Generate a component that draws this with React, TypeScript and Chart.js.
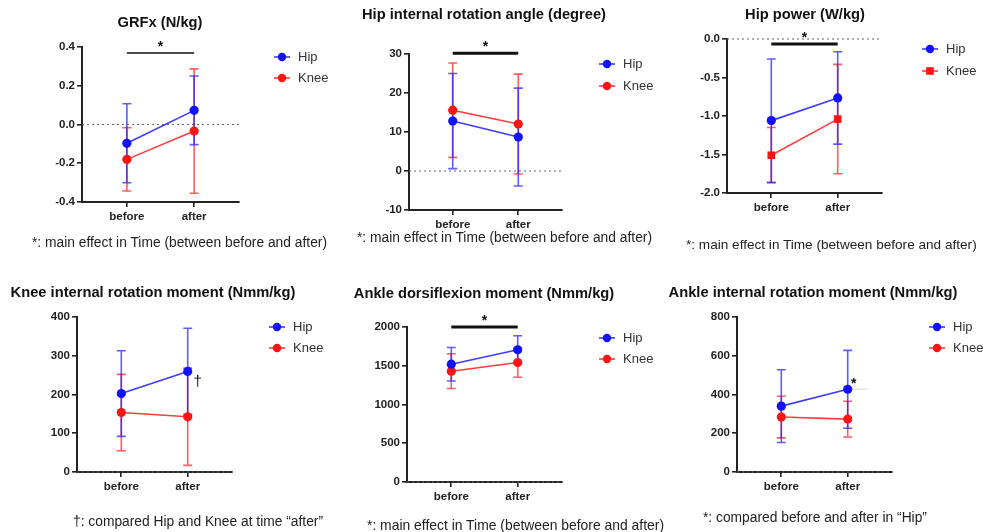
import React, { useEffect, useRef } from "react";
import { Chart, registerables } from "chart.js";
Chart.register(...registerables);

// ---------- data ----------
const timeLabels = ["before", "after"];
const groupNames = ["Hip", "Knee"];

const grfxTicks = [-0.4, -0.2, 0, 0.2, 0.4];
const grfxHipMean = [-0.097, 0.073];
const grfxHipSd = [0.204, 0.177];
const grfxKneeMean = [-0.18, -0.034];
const grfxKneeSd = [0.163, 0.321];

const angleTicks = [-10, 0, 10, 20, 30];
const angleHipMean = [12.8, 8.7];
const angleHipSd = [12.2, 12.55];
const angleKneeMean = [15.6, 12.05];
const angleKneeSd = [12.1, 12.8];

const powerTicks = [-2, -1.5, -1, -0.5, 0];
const powerHipMean = [-1.06, -0.765];
const powerHipSd = [0.8, 0.6];
const powerKneeMean = [-1.51, -1.04];
const powerKneeSd = [0.36, 0.71];

const kneeMomTicks = [0, 100, 200, 300, 400];
const kneeMomHipMean = [202.5, 259.5];
const kneeMomHipSd = [110.5, 111.5];
const kneeMomKneeMean = [153.5, 142.5];
const kneeMomKneeSd = [98.5, 125.5];

const dorsiTicks = [0, 500, 1000, 1500, 2000];
const dorsiHipMean = [1520, 1706];
const dorsiHipSd = [216, 181];
const dorsiKneeMean = [1430, 1541];
const dorsiKneeSd = [224, 189];

const ankleRotTicks = [0, 200, 400, 600, 800];
const ankleRotHipMean = [340, 427];
const ankleRotHipSd = [188, 201];
const ankleRotKneeMean = [283.5, 273];
const ankleRotKneeSd = [107.5, 92];

const captionTime = "*: main effect in Time (between before and after)";

// ---------- layout / style ----------
const FONT = "'Liberation Sans', Arial, Helvetica, sans-serif";
const HIP_COLOR = "#1212ff";
const KNEE_COLOR = "#ff1414";
const HIP_LINE = "rgba(40,40,255,0.9)";
const KNEE_LINE = "rgba(255,40,40,0.9)";
const HIP_ERR = "rgba(30,30,255,0.72)";
const KNEE_ERR = "rgba(255,30,30,0.72)";

type Mark = { text: string; x: number; y: number; font: string };
type Panel = {
  rect: [number, number, number, number];
  area: [number, number, number, number];
  title: string;
  titlePos: [number, number];
  caption: string;
  captionPos: [number, number];
  captionSize: number;
  ticks: number[];
  decimals: number;
  hipMean: number[];
  hipSd: number[];
  kneeMean: number[];
  kneeSd: number[];
  kneeStyle: "circle" | "rect";
  legend: [number, number, number];
  sig?: { y: number; width: number };
  marks?: Mark[];
  guide?: { x0: number; x1: number; y: number };
};

const panels: Panel[] = [
  {
    rect: [0, 0, 330, 262],
    area: [82, 47, 239, 202],
    title: "GRFx (N/kg)",
    titlePos: [160, 22],
    caption: captionTime,
    captionPos: [32, 243],
    captionSize: 13.8,
    ticks: grfxTicks,
    decimals: 1,
    hipMean: grfxHipMean,
    hipSd: grfxHipSd,
    kneeMean: grfxKneeMean,
    kneeSd: grfxKneeSd,
    kneeStyle: "circle",
    legend: [282, 57, 78],
    sig: { y: 0.369, width: 1.5 },
  },
  {
    rect: [330, 0, 330, 262],
    area: [409, 54, 562, 210],
    title: "Hip internal rotation angle (degree)",
    titlePos: [484, 14],
    caption: captionTime,
    captionPos: [357, 238],
    captionSize: 13.8,
    ticks: angleTicks,
    decimals: 0,
    hipMean: angleHipMean,
    hipSd: angleHipSd,
    kneeMean: angleKneeMean,
    kneeSd: angleKneeSd,
    kneeStyle: "circle",
    legend: [607, 64, 86],
    sig: { y: 30.2, width: 3 },
  },
  {
    rect: [660, 0, 323, 262],
    area: [727, 39, 882, 193],
    title: "Hip power (W/kg)",
    titlePos: [805, 14],
    caption: captionTime,
    captionPos: [686, 245],
    captionSize: 13.6,
    ticks: powerTicks,
    decimals: 1,
    hipMean: powerHipMean,
    hipSd: powerHipSd,
    kneeMean: powerKneeMean,
    kneeSd: powerKneeSd,
    kneeStyle: "rect",
    legend: [930, 49, 71],
    sig: { y: -0.065, width: 3 },
  },
  {
    rect: [0, 262, 330, 270],
    area: [77, 317, 232, 472],
    title: "Knee internal rotation moment (Nmm/kg)",
    titlePos: [153, 292],
    caption: "\u2020: compared Hip and Knee at time \u201cafter\u201d",
    captionPos: [73, 522],
    captionSize: 13.8,
    ticks: kneeMomTicks,
    decimals: 0,
    hipMean: kneeMomHipMean,
    hipSd: kneeMomHipSd,
    kneeMean: kneeMomKneeMean,
    kneeSd: kneeMomKneeSd,
    kneeStyle: "circle",
    legend: [277, 327, 348],
    marks: [{ text: "\u2020", x: 1.15, y: 232, font: `15px ${FONT}` }],
  },
  {
    rect: [330, 262, 330, 270],
    area: [407, 327, 562, 482],
    title: "Ankle dorsiflexion moment (Nmm/kg)",
    titlePos: [484, 293],
    caption: captionTime,
    captionPos: [367, 525],
    captionSize: 13.9,
    ticks: dorsiTicks,
    decimals: 0,
    hipMean: dorsiHipMean,
    hipSd: dorsiHipSd,
    kneeMean: dorsiKneeMean,
    kneeSd: dorsiKneeSd,
    kneeStyle: "circle",
    legend: [607, 338, 359],
    sig: { y: 2000, width: 3 },
  },
  {
    rect: [660, 262, 323, 270],
    area: [737, 317, 892, 472],
    title: "Ankle internal rotation moment (Nmm/kg)",
    titlePos: [813, 292],
    caption: "*: compared before and after in \u201cHip\u201d",
    captionPos: [703, 518],
    captionSize: 13.8,
    ticks: ankleRotTicks,
    decimals: 0,
    hipMean: ankleRotHipMean,
    hipSd: ankleRotHipSd,
    kneeMean: ankleRotKneeMean,
    kneeSd: ankleRotKneeSd,
    kneeStyle: "circle",
    legend: [937, 327, 348],
    marks: [{ text: "*", x: 1.09, y: 475, font: `bold 14px ${FONT}` }],
    guide: { x0: 1, x1: 1.3, y: 427 },
  },
];

const X_MIN = -0.667;
const X_MAX = 1.667;
const X_AXIS_H = 30;

function drawErr(ctx: CanvasRenderingContext2D, chart: any, means: number[], sds: number[], color: string) {
  const { x, y } = chart.scales;
  ctx.save();
  ctx.strokeStyle = color;
  ctx.lineWidth = 1.6;
  means.forEach((m, i) => {
    const px = x.getPixelForValue(i);
    const top = y.getPixelForValue(m + sds[i]);
    const bot = y.getPixelForValue(m - sds[i]);
    ctx.beginPath();
    ctx.moveTo(px, top);
    ctx.lineTo(px, bot);
    ctx.moveTo(px - 4.5, top);
    ctx.lineTo(px + 4.5, top);
    ctx.moveTo(px - 4.5, bot);
    ctx.lineTo(px + 4.5, bot);
    ctx.stroke();
  });
  ctx.restore();
}

function makeExtras(p: Panel) {
  return {
    id: "extras",
    beforeDatasetsDraw(chart: any) {
      const { ctx, chartArea } = chart;
      const { x, y } = chart.scales;
      const y0 = y.getPixelForValue(0);
      ctx.save();
      ctx.setLineDash([2, 3]);
      ctx.strokeStyle = "#666";
      ctx.lineWidth = 1.1;
      ctx.beginPath();
      ctx.moveTo(chartArea.left, y0);
      ctx.lineTo(chartArea.right, y0);
      ctx.stroke();
      ctx.restore();
      if (p.guide) {
        ctx.save();
        ctx.strokeStyle = "#e2e2e2";
        ctx.lineWidth = 1.5;
        ctx.beginPath();
        ctx.moveTo(x.getPixelForValue(p.guide.x0), y.getPixelForValue(p.guide.y));
        ctx.lineTo(x.getPixelForValue(p.guide.x1), y.getPixelForValue(p.guide.y));
        ctx.stroke();
        ctx.restore();
      }
      drawErr(ctx, chart, p.kneeMean, p.kneeSd, KNEE_ERR);
      drawErr(ctx, chart, p.hipMean, p.hipSd, HIP_ERR);
    },
    afterDraw(chart: any) {
      const { ctx } = chart;
      const { x, y } = chart.scales;
      if (p.sig) {
        const yy = y.getPixelForValue(p.sig.y);
        const x0 = x.getPixelForValue(0);
        const x1 = x.getPixelForValue(1);
        ctx.save();
        ctx.strokeStyle = "#111";
        ctx.lineWidth = p.sig.width;
        ctx.beginPath();
        ctx.moveTo(x0, yy);
        ctx.lineTo(x1, yy);
        ctx.stroke();
        ctx.fillStyle = "#111";
        ctx.font = `bold 14px ${FONT}`;
        ctx.textAlign = "center";
        ctx.textBaseline = "alphabetic";
        ctx.fillText("*", (x0 + x1) / 2, yy - 10 + 8);
        ctx.restore();
      }
      (p.marks || []).forEach((m) => {
        ctx.save();
        ctx.fillStyle = "#111";
        ctx.font = m.font;
        ctx.textAlign = "center";
        if (m.text === "*") {
          ctx.textBaseline = "alphabetic";
          ctx.fillText(m.text, x.getPixelForValue(m.x), y.getPixelForValue(m.y) + 8);
        } else {
          ctx.textBaseline = "middle";
          ctx.fillText(m.text, x.getPixelForValue(m.x), y.getPixelForValue(m.y));
        }
        ctx.restore();
      });
      // legend
      const [lx, ly1, ly2] = p.legend;
      const ox = p.rect[0];
      const oy = p.rect[1];
      const entries = [
        { name: groupNames[0], color: HIP_COLOR, line: HIP_LINE, style: "circle", yy: ly1 },
        { name: groupNames[1], color: KNEE_COLOR, line: KNEE_LINE, style: p.kneeStyle, yy: ly2 },
      ];
      entries.forEach((e) => {
        const cx = lx - ox;
        const cy = e.yy - oy;
        ctx.save();
        ctx.strokeStyle = e.line;
        ctx.lineWidth = 1.6;
        ctx.beginPath();
        ctx.moveTo(cx - 8, cy);
        ctx.lineTo(cx + 8, cy);
        ctx.stroke();
        ctx.fillStyle = e.color;
        ctx.beginPath();
        if (e.style === "rect") {
          ctx.rect(cx - 3.8, cy - 3.8, 7.6, 7.6);
        } else {
          ctx.arc(cx, cy, 4.2, 0, Math.PI * 2);
        }
        ctx.fill();
        ctx.fillStyle = "#333";
        ctx.font = `13px ${FONT}`;
        ctx.textAlign = "left";
        ctx.textBaseline = "middle";
        ctx.fillText(e.name, cx + 16, cy + 0.5);
        ctx.restore();
      });
    },
  };
}

function PanelChart({ p }: { p: Panel }) {
  const ref = useRef<HTMLCanvasElement | null>(null);
  useEffect(() => {
    if (!ref.current) return;
    const [rx, ry, rw, rh] = p.rect;
    const [al, at, ar, ab] = p.area;
    const yAxisW = al - rx;
    const padTop = at - ry;
    const padRight = rw - (ar - rx);
    const padBottom = rh - (ab - ry) - X_AXIS_H;
    const mk = (vals: number[]) => vals.map((v, i) => ({ x: i, y: v }));
    const chart = new Chart(ref.current, {
      type: "line",
      data: {
        datasets: [
          {
            label: groupNames[0],
            data: mk(p.hipMean),
            borderColor: HIP_LINE,
            backgroundColor: HIP_COLOR,
            borderWidth: 1.6,
            pointRadius: 4.6,
            pointBorderWidth: 0,
            pointBackgroundColor: HIP_COLOR,
            pointStyle: "circle",
          },
          {
            label: groupNames[1],
            data: mk(p.kneeMean),
            borderColor: KNEE_LINE,
            backgroundColor: KNEE_COLOR,
            borderWidth: 1.6,
            pointRadius: p.kneeStyle === "rect" ? 5.4 : 4.6,
            pointBorderWidth: 0,
            pointBackgroundColor: KNEE_COLOR,
            pointStyle: p.kneeStyle,
          },
        ],
      },
      options: {
        responsive: false,
        maintainAspectRatio: false,
        animation: false,
        devicePixelRatio: 1,
        layout: { padding: { left: 0, top: padTop, right: padRight, bottom: padBottom } },
        plugins: { legend: { display: false }, tooltip: { enabled: false }, title: { display: false } },
        scales: {
          x: {
            type: "linear",
            min: X_MIN,
            max: X_MAX,
            afterBuildTicks: (s: any) => {
              s.ticks = timeLabels.map((_, i) => ({ value: i }));
            },
            afterFit: (s: any) => {
              s.height = X_AXIS_H;
            },
            ticks: {
              callback: (v: any) => timeLabels[Math.round(Number(v))] ?? "",
              font: { family: FONT, size: 11.5, weight: "bold" },
              color: "#222",
              padding: 3,
              maxRotation: 0,
              autoSkip: false,
            },
            grid: { display: true, drawOnChartArea: false, drawTicks: true, tickLength: 5, color: "#222", lineWidth: 1.6 },
            border: { display: true, color: "#222", width: 2 },
          },
          y: {
            type: "linear",
            min: p.ticks[0],
            max: p.ticks[p.ticks.length - 1],
            afterBuildTicks: (s: any) => {
              s.ticks = p.ticks.map((v) => ({ value: v }));
            },
            afterFit: (s: any) => {
              s.width = yAxisW;
            },
            ticks: {
              callback: (v: any) => Number(v).toFixed(p.decimals),
              font: { family: FONT, size: 11.5, weight: "bold" },
              color: "#222",
              padding: 2,
              autoSkip: false,
            },
            grid: { display: true, drawOnChartArea: false, drawTicks: true, tickLength: 5, color: "#222", lineWidth: 1.6 },
            border: { display: true, color: "#222", width: 2 },
          },
        },
      },
      plugins: [makeExtras(p) as any],
    });
    return () => chart.destroy();
  }, [p]);
  const [rx, ry, rw, rh] = p.rect;
  return (
    <>
      <canvas
        ref={ref}
        width={rw}
        height={rh}
        style={{ position: "absolute", left: rx, top: ry, width: rw, height: rh }}
      />
      <div
        style={{
          position: "absolute",
          left: p.titlePos[0],
          top: p.titlePos[1] - 9,
          transform: "translateX(-50%)",
          whiteSpace: "nowrap",
          font: `bold 14.7px ${FONT}`,
          lineHeight: "18px",
          color: "#111",
        }}
      >
        {p.title}
      </div>
      <div
        style={{
          position: "absolute",
          left: p.captionPos[0],
          top: p.captionPos[1] - 9,
          whiteSpace: "nowrap",
          font: `${p.captionSize}px ${FONT}`,
          lineHeight: "18px",
          color: "#222",
        }}
      >
        {p.caption}
      </div>
    </>
  );
}

export default function App() {
  return (
    <div
      style={{
        position: "absolute",
        left: 0,
        top: 0,
        width: 983,
        height: 532,
        background: "#fff",
        overflow: "hidden",
      }}
    >
      {panels.map((p, i) => (
        <PanelChart key={i} p={p} />
      ))}
    </div>
  );
}
